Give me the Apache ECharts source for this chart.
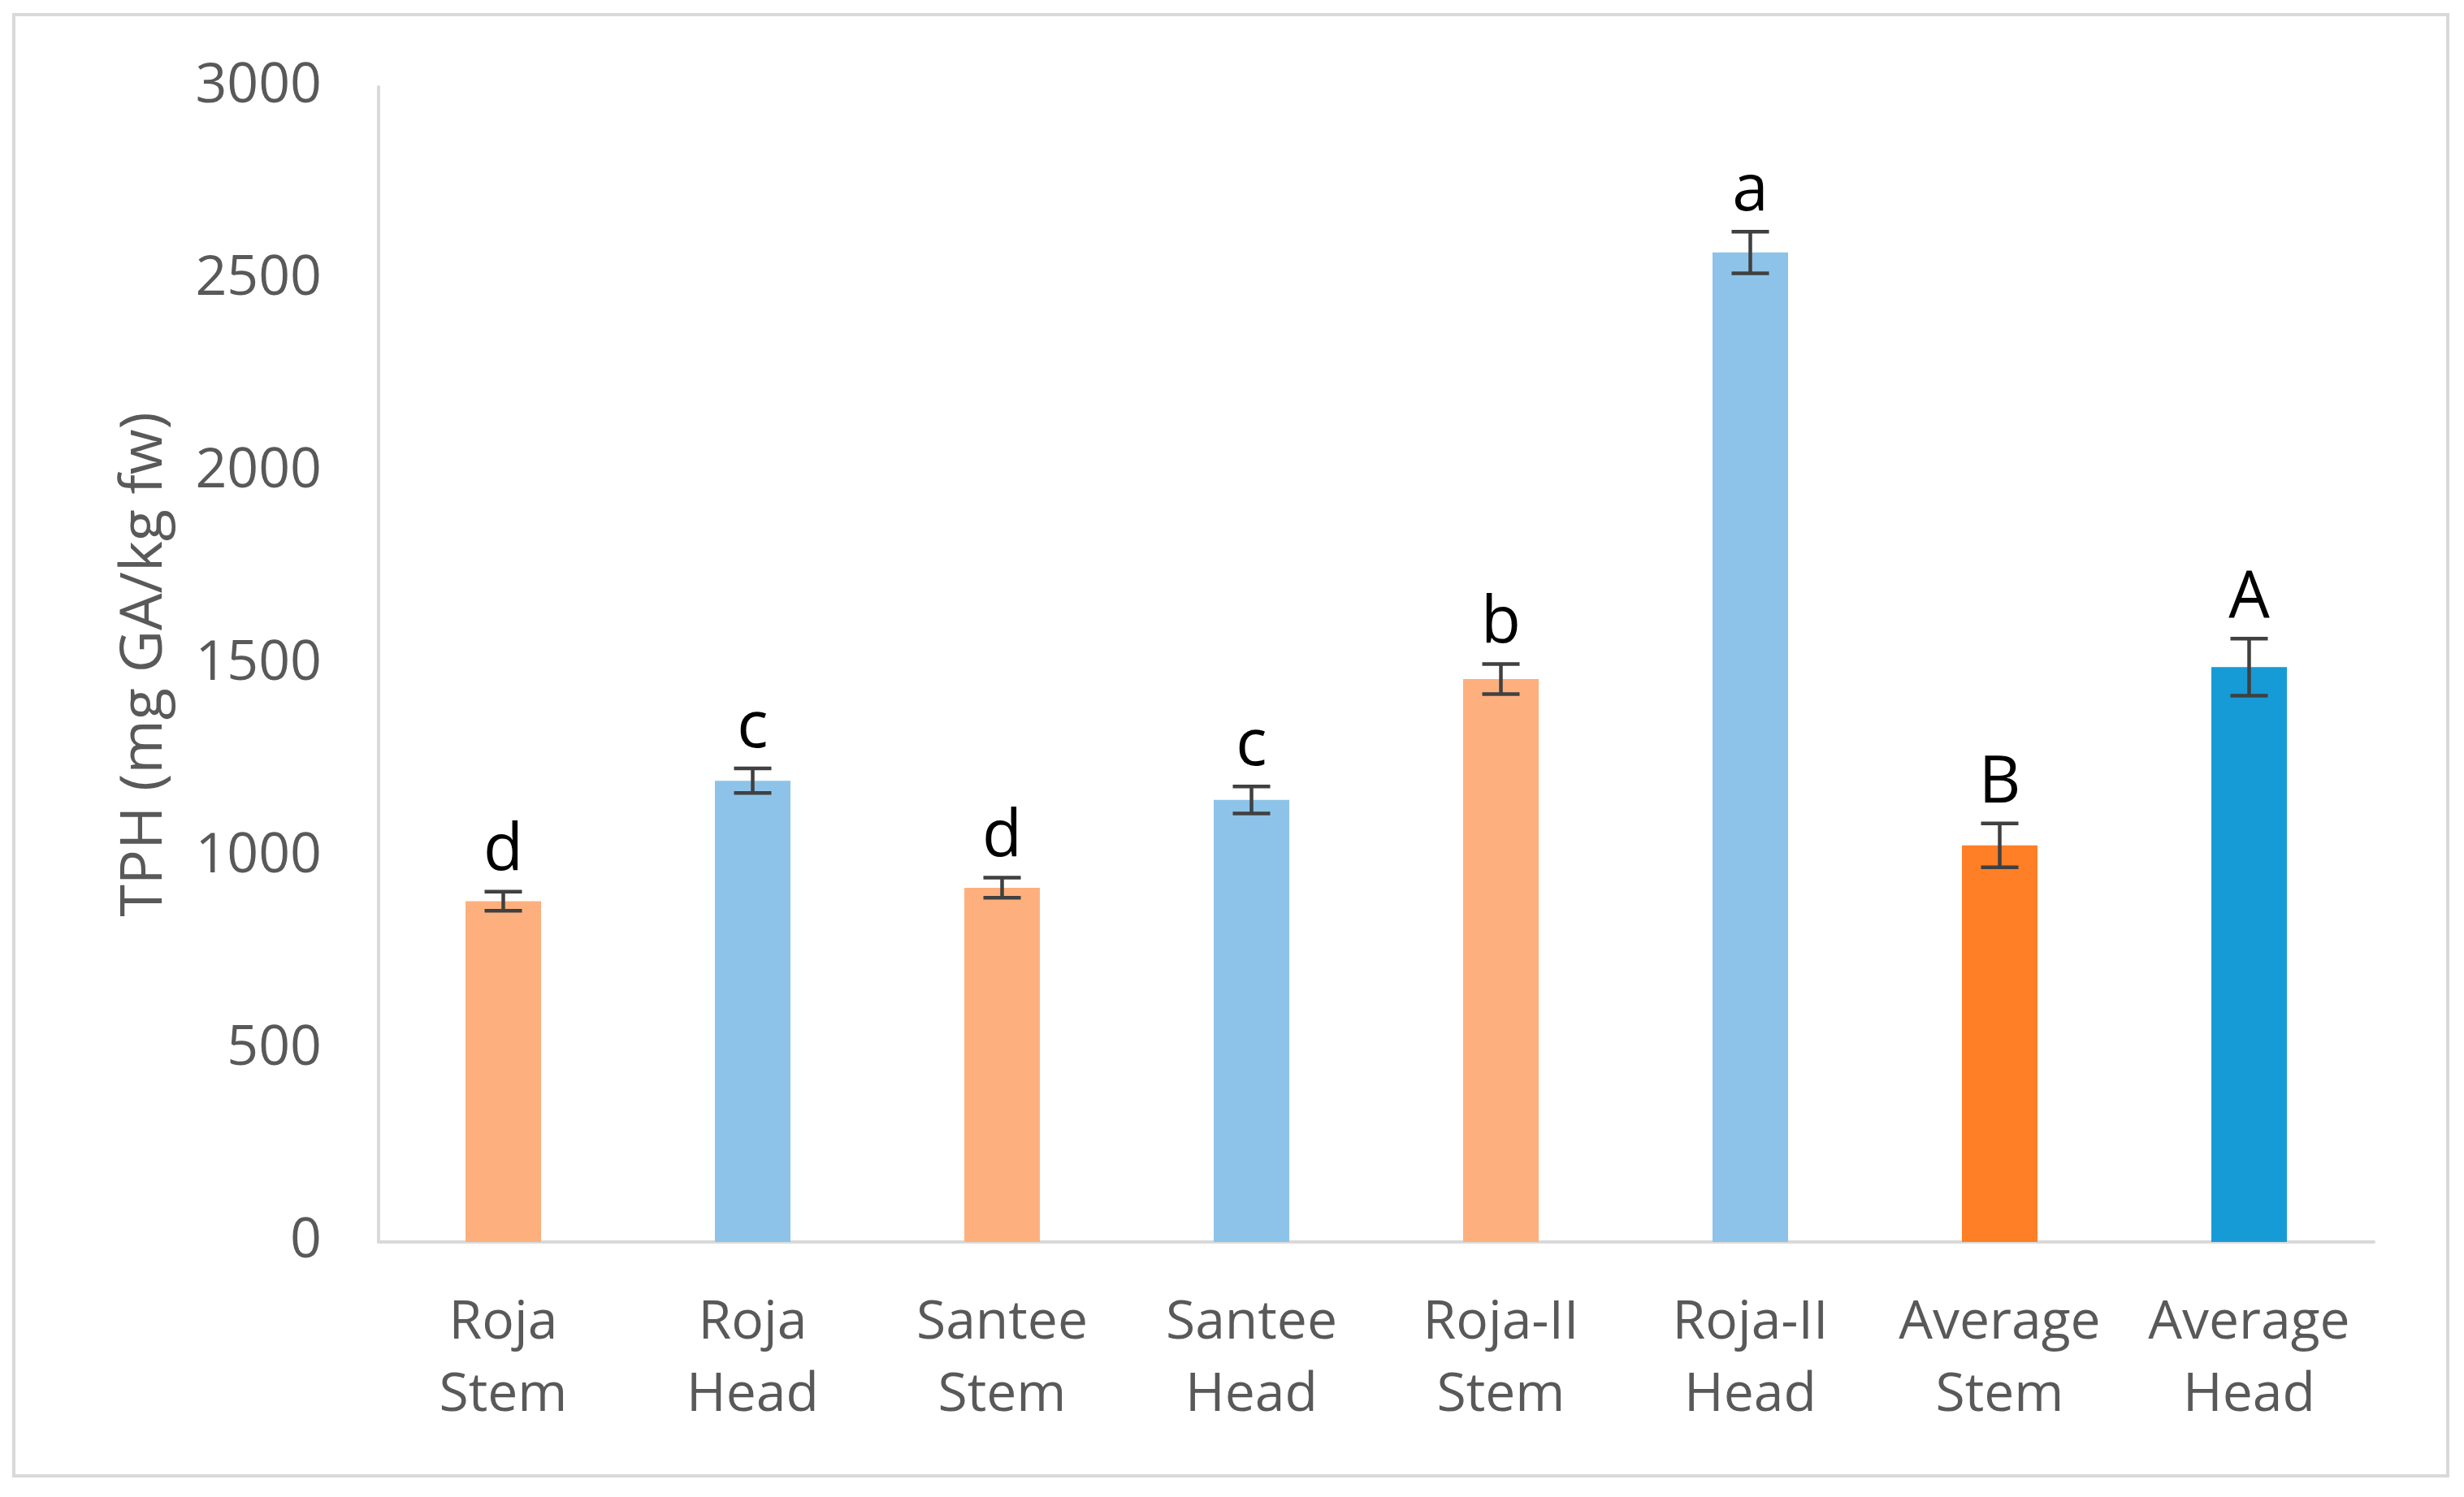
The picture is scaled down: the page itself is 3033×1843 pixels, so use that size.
<!DOCTYPE html>
<html>
<head>
<meta charset="utf-8">
<script src="https://cdn.jsdelivr.net/npm/echarts@6/dist/echarts.min.js"></script>
<style>
  html, body { margin: 0; padding: 0; background: #fff; }
  #chart { width: 3033px; height: 1843px; }
</style>
</head>
<body>
<div id="chart"></div>
<script>
// ---- data ----
const categories = ['Roja\nStem', 'Roja\nHead', 'Santee\nStem', 'Santee\nHead', 'Roja-II\nStem', 'Roja-II\nHead', 'Average\nStem', 'Average\nHead'];
const values = [885, 1198, 920, 1148, 1462, 2570, 1030, 1493];
const errors = [25, 32, 26, 35, 39, 54, 57, 74];
const letters = ['d', 'c', 'd', 'c', 'b', 'a', 'B', 'A'];
const yTicks = { min: 0, max: 3000, interval: 500 };
const yAxisName = 'TPH (mg GA/kg fw)';

// ---- styles ----
const barColors = ['#FDB07E', '#8DC3E8', '#FDB07E', '#8DC3E8', '#FDB07E', '#8DC3E8', '#FE7F26', '#179BD6'];
const FONT = '"Open Sans", sans-serif';

const chart = echarts.init(document.getElementById('chart'));

const option = {
  animation: false,
  backgroundColor: '#fff',
  graphic: [{
    type: 'rect',
    shape: { x: 17, y: 18, width: 2996, height: 1799 },
    style: { fill: 'none', stroke: '#D9D9D9', lineWidth: 4 },
    silent: true
  }],
  grid: { left: 466, right: 111, top: 107, bottom: 314, containLabel: false },
  xAxis: {
    type: 'category',
    data: categories,
    boundaryGap: true,
    axisLine: { show: true, lineStyle: { color: '#D9D9D9', width: 4 } },
    axisTick: { show: false },
    axisLabel: {
      interval: 0,
      color: '#595959',
      fontFamily: FONT,
      fontSize: 66,
      lineHeight: 89,
      margin: 56
    },
    splitLine: { show: false }
  },
  yAxis: {
    type: 'value',
    min: yTicks.min,
    max: yTicks.max,
    interval: yTicks.interval,
    name: yAxisName,
    nameLocation: 'middle',
    nameGap: 252,
    nameTextStyle: { color: '#595959', fontFamily: FONT, fontSize: 72 },
    axisLine: { show: true, lineStyle: { color: '#D9D9D9', width: 4 } },
    axisTick: { show: false },
    axisLabel: {
      color: '#595959', fontFamily: FONT, fontSize: 68, margin: 70,
      formatter: function (v) { return String(v); }
    },
    splitLine: { show: false }
  },
  series: [
    {
      type: 'bar',
      barWidth: 93,
      data: values.map((v, i) => ({ value: v, itemStyle: { color: barColors[i] } })),
      z: 2
    },
    {
      type: 'custom',
      z: 5,
      data: values.map((v, i) => [i, v, errors[i]]),
      renderItem: function (params, api) {
        const i = api.value(0);
        const v = api.value(1);
        const e = api.value(2);
        const top = api.coord([i, v + e]);
        const bot = api.coord([i, v - e]);
        const half = 23;
        const ls = { stroke: '#404040', lineWidth: 4.5 };
        return {
          type: 'group',
          children: [
            { type: 'line', shape: { x1: top[0], y1: top[1], x2: bot[0], y2: bot[1] }, style: ls },
            { type: 'line', shape: { x1: top[0] - half, y1: top[1], x2: top[0] + half, y2: top[1] }, style: ls },
            { type: 'line', shape: { x1: bot[0] - half, y1: bot[1], x2: bot[0] + half, y2: bot[1] }, style: ls },
            {
              type: 'text',
              style: {
                text: letters[i],
                x: top[0],
                y: top[1] - 9,
                align: 'center',
                verticalAlign: 'bottom',
                fontFamily: FONT,
                fontSize: 80,
                fill: '#000'
              }
            }
          ]
        };
      }
    }
  ]
};

chart.setOption(option);
</script>
</body>
</html>
